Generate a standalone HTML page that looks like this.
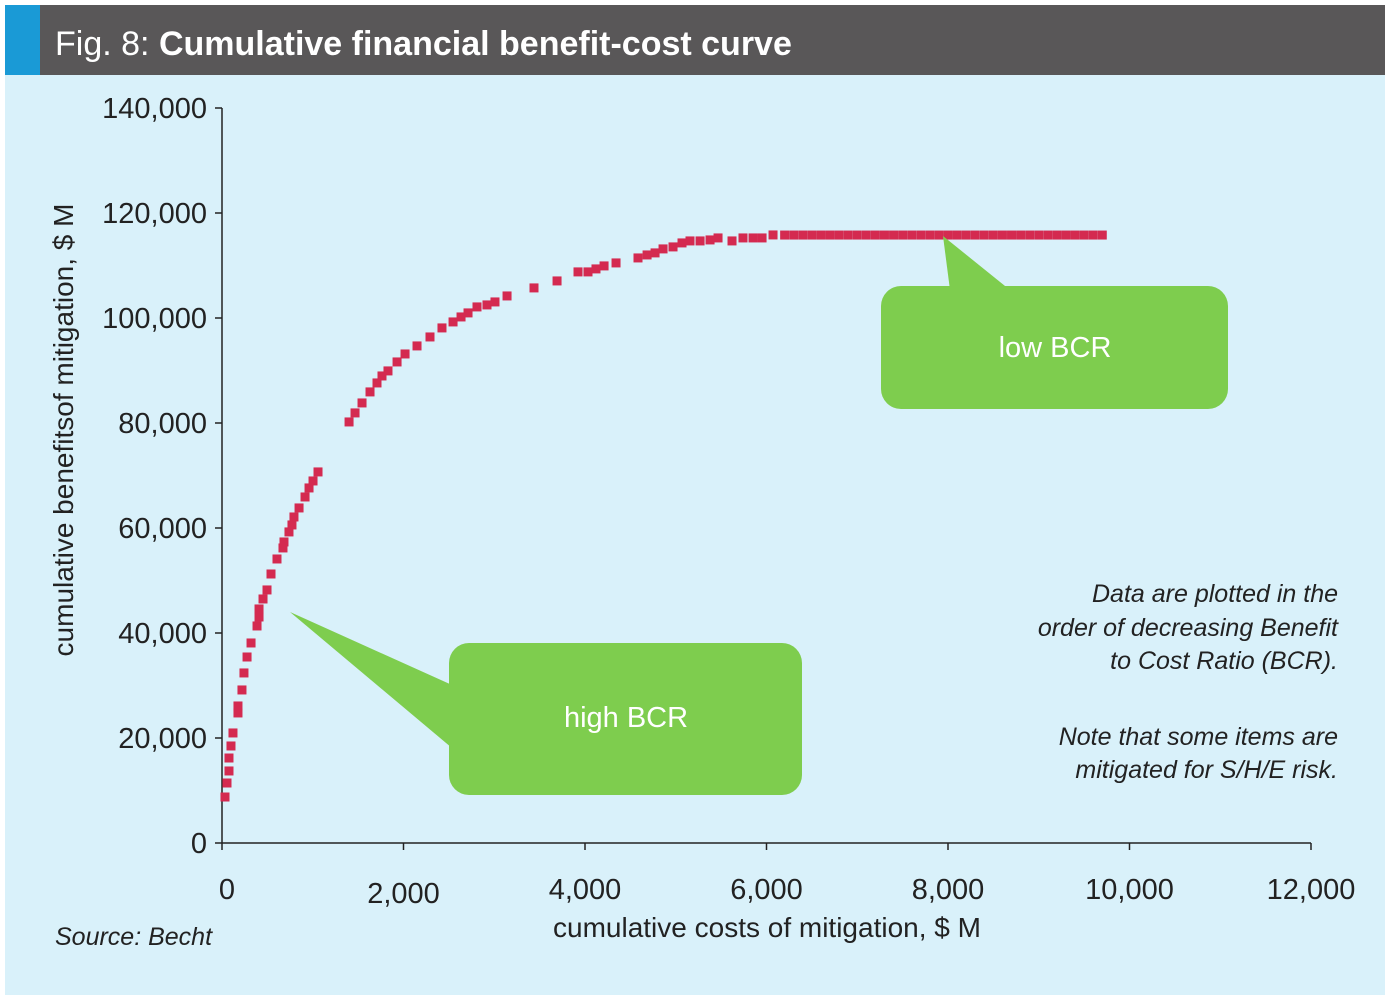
<!DOCTYPE html>
<html><head><meta charset="utf-8"><style>
body{margin:0;width:1389px;height:1000px;background:#fff;overflow:hidden}
svg{display:block;font-family:"Liberation Sans",sans-serif}
</style></head><body>
<svg width="1389" height="1000">
<rect x="5" y="5" width="1380" height="990" fill="#d9f1fa"/>
<rect x="5" y="5" width="1380" height="70" fill="#595758"/>
<rect x="5" y="5" width="35" height="70" fill="#1a9ad6"/>
<text x="55" y="55" font-size="34" fill="#fff"><tspan font-weight="normal" transform="scale(0.9,1)">Fig. 8: </tspan><tspan font-weight="bold">Cumulative financial benefit-cost curve</tspan></text>
<g id="axes"></g>
<g id="marks"></g>
<g>
<polygon points="943,236 950,290 1010,290" fill="#7ecd4e"/>
<rect x="881" y="286" width="347" height="123" rx="20" fill="#7ecd4e"/>
<text x="1055" y="357" font-size="29" fill="#fff" text-anchor="middle">low BCR</text>
</g>
<g>
<polygon points="290,612 452,685 452,748" fill="#7ecd4e"/>
<rect x="449" y="643" width="353" height="152" rx="20" fill="#7ecd4e"/>
<text x="626" y="727" font-size="29" fill="#fff" text-anchor="middle">high BCR</text>
</g>
<g font-size="25" font-style="italic" fill="#222" text-anchor="end">
<text x="1338" y="602">Data are plotted in the</text>
<text x="1338" y="636">order of decreasing Benefit</text>
<text x="1338" y="669">to Cost Ratio (BCR).</text>
<text x="1338" y="745">Note that some items are</text>
<text x="1338" y="778">mitigated for S/H/E risk.</text>
</g>
<text x="55" y="945" font-size="25" font-style="italic" fill="#222">Source: Becht</text>
<text x="767" y="937" font-size="28" fill="#222" text-anchor="middle">cumulative costs of mitigation, $ M</text>
<text transform="translate(73,430) rotate(-90)" font-size="28" fill="#222" text-anchor="middle">cumulative benefitsof mitigation, $ M</text>
</svg>
<script>
const xTicks=[0,2000,4000,6000,8000,10000,12000];
const yTicks=[0,20000,40000,60000,80000,100000,120000,140000];
const costs=[33,55,77,77,99,121,176,176,220,242,276,320,386,408,408,452,496,540,606,672,683,738,771,793,849,915,959,1003,1058,1400,1466,1543,1631,1708,1763,1829,1929,2017,2149,2292,2424,2546,2634,2711,2810,2920,3008,3141,3438,3692,3923,4033,4121,4210,4342,4584,4684,4772,4860,4970,5069,5157,5268,5378,5466,5620,5741,5852,5951,6072,6200,6300,6400,6500,6600,6700,6800,6900,7000,7100,7200,7300,7400,7500,7600,7700,7800,7900,8000,8100,8200,8300,8400,8500,8600,8700,8800,8900,9000,9100,9200,9300,9400,9500,9600,9700];
const benefits=[8760,11430,13720,16190,18480,20960,24770,26100,29150,32390,35430,38100,41340,43050,44580,46480,48200,51240,54100,56200,57340,59250,60580,62100,63820,65910,67630,68960,70680,80200,81920,83820,85920,87630,88960,89920,91630,93150,94680,96390,98110,99250,100200,100970,102110,102490,103060,104200,105730,107060,108780,108780,109350,109920,110490,111440,112010,112400,113160,113540,114300,114680,114680,114870,115250,114680,115250,115250,115250,115820,115800,115800,115800,115800,115800,115800,115800,115800,115800,115800,115800,115800,115800,115800,115800,115800,115800,115800,115800,115800,115800,115800,115800,115800,115800,115800,115800,115800,115800,115800,115800,115800,115800,115800,115800,115800];
const NS="http://www.w3.org/2000/svg";
const X=v=>222+v*(1311-222)/12000;
const Y=v=>843-v*(843-108)/140000;
const fmt=v=>v.toLocaleString('en-US');
const axes=document.getElementById('axes'),marks=document.getElementById('marks');
function mk(t,a,p){const e=document.createElementNS(NS,t);for(const k in a)e.setAttribute(k,a[k]);p.appendChild(e);return e;}
const xl=mk('line',{x1:222,y1:843,x2:1311,y2:843,stroke:'#222','stroke-width':1.5},axes);


const yl=mk('line',{x1:222,y1:108,x2:222,y2:843,stroke:'#222','stroke-width':1.5},axes);


xTicks.forEach((v,i)=>{
  mk('line',{x1:X(v),y1:843,x2:X(v),y2:850,stroke:'#222','stroke-width':1.5},axes);
  const t=mk('text',{x:X(v)+(i===0?5:0),y:i===1?903:899,'font-size':29,fill:'#222','text-anchor':'middle'},axes);
  t.textContent=fmt(v);
  
  
});
yTicks.forEach(v=>{
  mk('line',{x1:215,y1:Y(v),x2:222,y2:Y(v),stroke:'#222','stroke-width':1.5},axes);
  const t=mk('text',{x:207,y:Y(v)+10,'font-size':29,fill:'#222','text-anchor':'end'},axes);
  t.textContent=fmt(v);
  
  
});
costs.forEach((c,i)=>{
  const r=mk('rect',{x:X(c)-4.5,y:Y(benefits[i])-4.5,width:9,height:9,fill:'#d42a50'},marks);
  
  
});
</script>
</body></html>
